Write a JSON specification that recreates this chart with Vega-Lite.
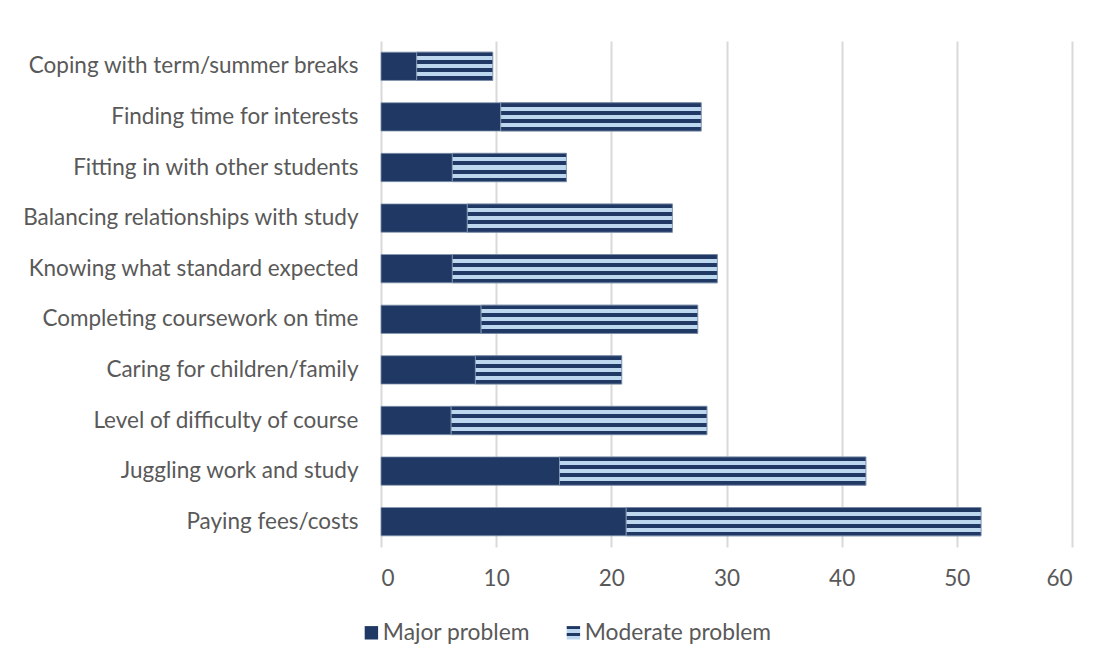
{
  "$schema": "https://vega.github.io/schema/vega-lite/v6.json",
  "autosize": {"type": "none"},
  "width": 691,
  "height": 506,
  "padding": {"left": 381, "top": 41, "right": 36, "bottom": 119},
  "background": "white",
  "config": {
    "view": {"stroke": null},
    "font": "Lato",
    "axis": {"labelFont": "Lato", "labelColor": "#595959", "labelFontSize": 22.5},
    "legend": {"labelFont": "Lato", "labelColor": "#595959", "labelFontSize": 22.8}
  },
  "data": {
    "values": [
      {"category": "Coping with term/summer breaks", "problem": "Major problem", "value": 3.1},
      {"category": "Coping with term/summer breaks", "problem": "Moderate problem", "value": 6.6},
      {"category": "Finding time for interests", "problem": "Major problem", "value": 10.4},
      {"category": "Finding time for interests", "problem": "Moderate problem", "value": 17.4},
      {"category": "Fitting in with other students", "problem": "Major problem", "value": 6.2},
      {"category": "Fitting in with other students", "problem": "Moderate problem", "value": 9.9},
      {"category": "Balancing relationships with study", "problem": "Major problem", "value": 7.5},
      {"category": "Balancing relationships with study", "problem": "Moderate problem", "value": 17.8},
      {"category": "Knowing what standard expected", "problem": "Major problem", "value": 6.2},
      {"category": "Knowing what standard expected", "problem": "Moderate problem", "value": 23.0},
      {"category": "Completing coursework on time", "problem": "Major problem", "value": 8.7},
      {"category": "Completing coursework on time", "problem": "Moderate problem", "value": 18.8},
      {"category": "Caring for children/family", "problem": "Major problem", "value": 8.2},
      {"category": "Caring for children/family", "problem": "Moderate problem", "value": 12.7},
      {"category": "Level of difficulty of course", "problem": "Major problem", "value": 6.1},
      {"category": "Level of difficulty of course", "problem": "Moderate problem", "value": 22.2},
      {"category": "Juggling work and study", "problem": "Major problem", "value": 15.5},
      {"category": "Juggling work and study", "problem": "Moderate problem", "value": 26.6},
      {"category": "Paying fees/costs", "problem": "Major problem", "value": 21.3},
      {"category": "Paying fees/costs", "problem": "Moderate problem", "value": 30.8}
    ]
  },
  "transform": [
    {"stack": "value", "groupby": ["category"], "sort": [{"field": "problem", "order": "ascending"}], "as": ["x0", "x1"]}
  ],
  "encoding": {
    "y": {
      "field": "category",
      "type": "nominal",
      "sort": null,
      "scale": {"paddingInner": 0.44, "paddingOuter": 0.22},
      "axis": {"title": null, "domain": false, "ticks": false, "grid": false, "labelPadding": 23, "labelLimit": 400}
    },
    "x": {
      "field": "x0",
      "type": "quantitative",
      "scale": {"domain": [0, 60], "nice": false},
      "axis": {"title": null, "domain": false, "ticks": false, "grid": true, "gridColor": "#d9d9d9", "gridWidth": 2, "values": [0, 10, 20, 30, 40, 50, 60], "labelPadding": 20}
    },
    "x2": {"field": "x1"}
  },
  "layer": [
    {
      "mark": {"type": "bar", "stroke": "#8497B0", "strokeWidth": 0.75},
      "encoding": {
        "color": {
          "field": "problem",
          "type": "nominal",
          "scale": {
            "domain": ["Major problem", "Moderate problem"],
            "range": [
              "#203864",
              {"expr": "{gradient: 'linear', x1: 0, y1: 0, x2: 0, y2: 1, stops: [{offset: 0, color: '#203864'}, {offset: 0.25, color: '#203864'}, {offset: 0.25, color: '#BDD7EE'}, {offset: 0.5, color: '#BDD7EE'}, {offset: 0.5, color: '#203864'}, {offset: 0.75, color: '#203864'}, {offset: 0.75, color: '#BDD7EE'}, {offset: 1, color: '#BDD7EE'}]}"}
            ]
          },
          "legend": {
            "title": null,
            "orient": "none",
            "direction": "horizontal",
            "legendX": -21,
            "legendY": 580,
            "symbolType": "square",
            "symbolSize": 180,
            "symbolStrokeWidth": 0,
            "columnPadding": 32,
            "labelOffset": 0,
            "labelLimit": 400
          }
        }
      }
    },
    {
      "transform": [{"filter": "datum.problem === 'Moderate problem'"}],
      "mark": {
        "type": "bar",
        "stroke": "#8497B0",
        "strokeWidth": 0.75,
        "fill": {"gradient": "linear", "x1": 0, "y1": 0, "x2": 0, "y2": 1, "stops": [
          {"offset": 0, "color": "#203864"}, {"offset": 0.1429, "color": "#203864"},
          {"offset": 0.1429, "color": "#BDD7EE"}, {"offset": 0.2857, "color": "#BDD7EE"},
          {"offset": 0.2857, "color": "#203864"}, {"offset": 0.4286, "color": "#203864"},
          {"offset": 0.4286, "color": "#BDD7EE"}, {"offset": 0.5714, "color": "#BDD7EE"},
          {"offset": 0.5714, "color": "#203864"}, {"offset": 0.7143, "color": "#203864"},
          {"offset": 0.7143, "color": "#BDD7EE"}, {"offset": 0.8571, "color": "#BDD7EE"},
          {"offset": 0.8571, "color": "#203864"}, {"offset": 1, "color": "#203864"}
        ]}
      }
    }
  ]
}
